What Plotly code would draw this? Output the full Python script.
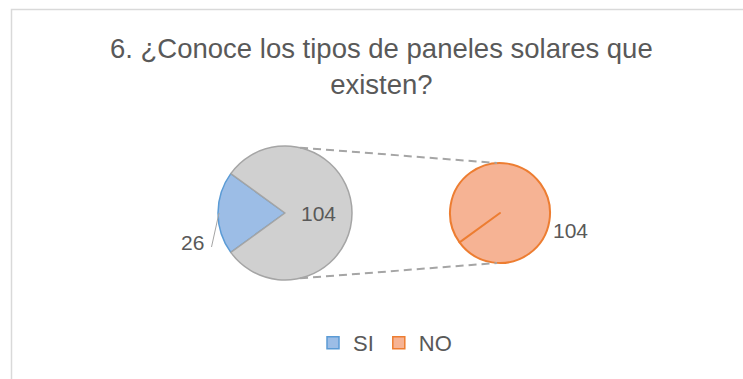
import math
import plotly.graph_objects as go

# ---- data ----
categories = ["SI", "NO"]
values = [26, 104]
secondary_categories = ["NO"]          # categories split out into the second pie
title_lines = ["6. ¿Conoce los tipos de paneles solares que", "existen?"]

W, H = 743, 379
FONT = "Liberation Sans Narrow, Arial Narrow, Liberation Sans, Arial, sans-serif"
TXT = "#595959"

colors = {"SI": "#9cbde6", "NO": "#f6b394"}
edge = {"SI": "#5b9bd5", "NO": "#ed7d31"}
gray_fill, gray_edge = "#d0d0d0", "#a5a5a5"

primary = [c for c in categories if c not in secondary_categories]
prim_vals = [values[categories.index(c)] for c in primary]
sec_vals = [values[categories.index(c)] for c in secondary_categories]
other_total = sum(sec_vals)
total = sum(values)

# geometry (pixels)
c1, r1 = (285, 213), 67
c2, r2 = (500, 213), 50


def px(x):
    return x / W


def py(y):
    return 1 - y / H


def dom(c, r):
    return dict(x=[px(c[0] - r), px(c[0] + r)], y=[py(c[1] + r), py(c[1] - r)])


# first slice centred on the left side (180 deg math)
frac = sum(prim_vals) / total
rot1 = 270 - frac * 360 / 2  # clockwise from 12 o'clock

fig = go.Figure()
fig.add_trace(go.Pie(
    labels=primary + ["Otro"], values=prim_vals + [other_total],
    sort=False, direction="clockwise", rotation=rot1,
    domain=dom(c1, r1), textinfo="none", hoverinfo="label+value",
    marker=dict(colors=[colors[c] for c in primary] + [gray_fill],
                line=dict(color=[edge[c] for c in primary] + [gray_edge], width=1.5)),
    showlegend=False,
))
fig.add_trace(go.Pie(
    labels=secondary_categories + [" "], values=sec_vals + [0],
    sort=False, direction="clockwise", rotation=rot1,
    domain=dom(c2, r2), textinfo="none", hoverinfo="label+value",
    marker=dict(colors=[colors[c] for c in secondary_categories] + [colors["NO"]],
                line=dict(color=edge["NO"], width=2)),
    showlegend=False,
))

# legend entries
for c in categories:
    fig.add_trace(go.Scatter(
        x=[None], y=[None], mode="markers", name=c,
        marker=dict(symbol="square", size=12, color=colors[c],
                    line=dict(color=edge[c], width=1.5)),
    ))

shapes = []
# frame
shapes.append(dict(type="rect", xref="paper", yref="paper",
                   x0=px(11.5), x1=1.2, y0=-0.2, y1=py(9.5),
                   line=dict(color="#d9d9d9", width=1.5)))
# connector lines
ang = math.radians(77)
for s in (1, -1):
    x0 = c1[0] + r1 * math.cos(ang)
    y0 = c1[1] - s * r1 * math.sin(ang)
    x1 = c2[0] - 3
    y1 = c2[1] - s * r2
    shapes.append(dict(type="line", xref="paper", yref="paper",
                       x0=px(x0), y0=py(y0), x1=px(x1), y1=py(y1),
                       line=dict(color="#a5a5a5", width=2, dash="8px,5px")))
# leader line for the small slice label
shapes.append(dict(type="line", xref="paper", yref="paper",
                   x0=px(c1[0] - r1 + 1), y0=py(c1[1]),
                   x1=px(c1[0] - r1 - 6.5), y1=py(c1[1] + 34),
                   line=dict(color="#a5a5a5", width=1)))

annotations = [
    dict(text=str(prim_vals[0]), x=px(c1[0] - r1 - 12), y=py(c1[1] + 29),
         xanchor="right", yanchor="middle"),
    dict(text=str(other_total), x=px(c1[0] + r1 * 0.5), y=py(c1[1]),
         xanchor="center", yanchor="middle"),
    dict(text=str(sec_vals[0]), x=px(c2[0] + r2 + 1), y=py(c2[1] + 17),
         xanchor="left", yanchor="middle"),
]
for a in annotations:
    a.update(xref="paper", yref="paper", showarrow=False,
             font=dict(family=FONT, size=21, color=TXT))

# title
annotations.append(dict(
    text="<br>".join(title_lines), xref="paper", yref="paper",
    x=px(381), y=py(67), xanchor="center", yanchor="middle",
    showarrow=False, align="center",
    font=dict(family=FONT, size=27.5, color=TXT)))

fig.update_layout(
    width=W, height=H, autosize=False,
    margin=dict(l=0, r=0, t=0, b=0),
    paper_bgcolor="white", plot_bgcolor="white",
    xaxis=dict(visible=False), yaxis=dict(visible=False),
    showlegend=True,
    legend=dict(orientation="h", x=px(385), xanchor="center",
                y=py(343), yanchor="middle",
                font=dict(family=FONT, size=22, color=TXT),
                bgcolor="rgba(0,0,0,0)"),
    shapes=shapes, annotations=annotations,
)

fig.write_html("out.html")
